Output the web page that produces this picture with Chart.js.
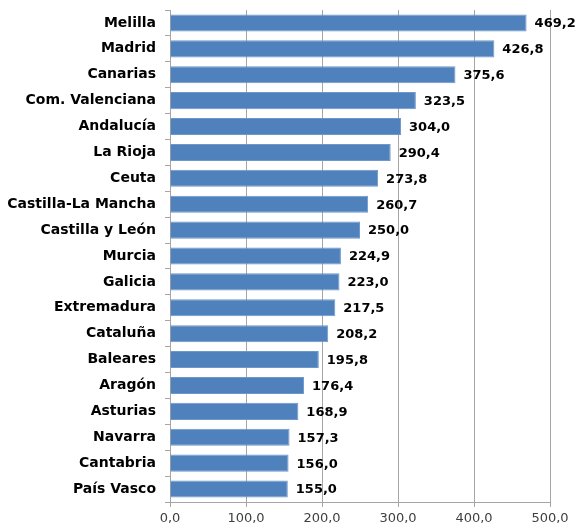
<!DOCTYPE html>
<html>
<head>
<meta charset="utf-8">
<script src="https://cdn.jsdelivr.net/npm/chart.js@4"></script>
<style>
  html,body{margin:0;padding:0;background:#fff;}
  #wrap{width:575px;height:529px;}
</style>
</head>
<body>
<div id="wrap"><canvas id="chart" width="575" height="529"></canvas></div>
<script>
// Datos
const regiones = ["Melilla","Madrid","Canarias","Com. Valenciana","Andalucía","La Rioja","Ceuta",
  "Castilla-La Mancha","Castilla y León","Murcia","Galicia","Extremadura","Cataluña","Baleares",
  "Aragón","Asturias","Navarra","Cantabria","País Vasco"];
const valores = [469.2,426.8,375.6,323.5,304.0,290.4,273.8,260.7,250.0,224.9,223.0,217.5,208.2,195.8,176.4,168.9,157.3,156.0,155.0];
const ejeMin = 0, ejeMax = 500, ejeStep = 100;

const fmt = v => v.toFixed(1).replace(".", ",");
const FONT = "DejaVu Sans";

// etiquetas de valor al final de cada barra
const valueLabels = {
  id:"valueLabels",
  afterDatasetsDraw(ch){
    const ctx = ch.ctx;
    const meta = ch.getDatasetMeta(0);
    ctx.save();
    ctx.font = `bold 13px "${FONT}"`;
    ctx.fillStyle = "#000";
    ctx.textAlign = "left";
    ctx.textBaseline = "middle";
    meta.data.forEach((bar,i)=>{
      ctx.fillText(fmt(valores[i]), bar.x + 8, bar.y + 1);
    });
    ctx.restore();
  }
};

new Chart(document.getElementById("chart"),{
  type:"bar",
  data:{
    labels:regiones,
    datasets:[{
      data:valores,
      backgroundColor:"#4f81bd",
      borderColor:"#6f97c9",
      borderWidth:1,
      barPercentage:0.66,
      categoryPercentage:1
    }]
  },
  options:{
    indexAxis:"y",
    responsive:false,
    animation:false,
    devicePixelRatio:1,
    layout:{padding:{top:10,right:25,left:0,bottom:0}},
    plugins:{legend:{display:false},tooltip:{enabled:false}},
    scales:{
      x:{
        min:ejeMin,max:ejeMax,
        ticks:{stepSize:ejeStep,color:"#404040",font:{family:FONT,size:13},padding:4,
          callback:v=>fmt(v)},
        grid:{color:"#a6a6a6",lineWidth:1,tickLength:5,drawTicks:true},
        border:{color:"#a6a6a6"},
        afterFit:s=>{s.height=27;s.paddingLeft=0;s.paddingRight=0;}
      },
      y:{
        ticks:{color:"#000",font:{family:FONT,size:14,weight:"bold"},padding:9},
        grid:{drawOnChartArea:false,color:"#a6a6a6",tickLength:5,offset:true},
        border:{color:"#a6a6a6"},
        afterFit:s=>{s.width=170;s.paddingTop=0;s.paddingBottom=0;}
      }
    }
  },
  plugins:[valueLabels]
});
</script>
</body>
</html>
